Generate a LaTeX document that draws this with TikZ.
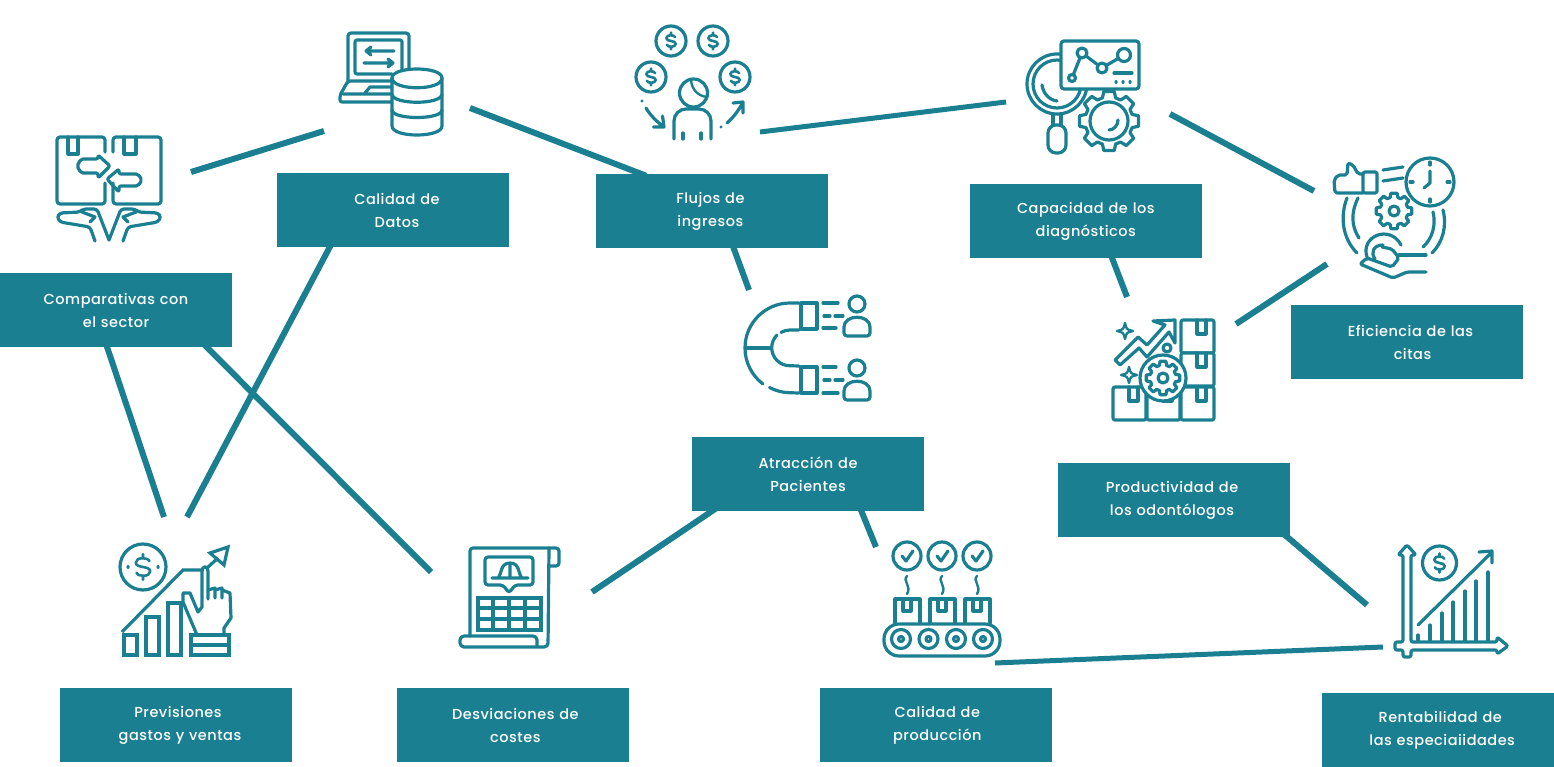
\documentclass[tikz,border=0pt]{standalone}
\usepackage{fontspec}
\usetikzlibrary{positioning,backgrounds}
\newfontfamily\boxfont[LetterSpace=3.5]{Poppins Medium}
\definecolor{tealbar}{HTML}{1A7F91}
\tikzset{
x=1pt,y=-1pt,
node distance=100pt,
infobox/.style={fill=tealbar, text=white, inner sep=0pt, minimum width=232pt, minimum height=74pt, text width=232pt, align=center, font=\boxfont\fontsize{14.5}{23}\selectfont}, % the teal label boxes
link/.style={draw=tealbar, line width=6pt}, % the connectors
iconline/.style={draw=tealbar, line width=3.2pt, line join=round, line cap=round},
pics/coin/.style={code={
  \draw[iconline, fill=white] (0,0) circle (#1);
  \draw[iconline, line width=2.6pt, scale=#1/16] (4.5,-4) .. controls (3.5,-7) and (-5,-7) .. (-5,-3) .. controls (-5,1) and (5,-1) .. (5,3) .. controls (5,7) and (-3.5,7) .. (-4.5,4) (0,-9)--(0,-7) (0,7)--(0,9);
}},
pics/gear/.style n args={4}{code={
  \draw[iconline, fill=white] (-16:#2) \foreach \k in {0,...,#3} {
    -- ({\k*360/(#3+1)-16*8/(#3+1)}:#2) -- ({\k*360/(#3+1)-10*8/(#3+1)}:#1) -- ({\k*360/(#3+1)+10*8/(#3+1)}:#1) -- ({\k*360/(#3+1)+16*8/(#3+1)}:#2)
  } -- cycle;
  \draw[iconline] (0,0) circle (#4);
}},
pics/parcel/.style={code={
  \draw[iconline, fill=white, rounded corners=2pt] (0,0) rectangle (33,33);
  \draw[iconline] (16,0) -- (16,14) -- (25,14) -- (25,0);
}},
pics/sparkle/.style={code={
  \draw[iconline, line width=2.4pt] (0,-8) .. controls (1.5,-1.5) .. (8,0) .. controls (1.5,1.5) .. (0,8) .. controls (-1.5,1.5) .. (-8,0) .. controls (-1.5,-1.5) .. cycle;
}},
}

\begin{document}
\begin{tikzpicture}
  \useasboundingbox (0,0) rectangle (1554,767);

  % boxes
  \node[infobox] (compara) at (116,310) {Comparativas con\\el sector};
  \node[infobox] (datos) at (393,210) {\hspace*{8pt}Calidad de\\\hspace*{8pt}Datos};
  \node[infobox, right=87pt of datos, yshift=-1pt] (flujos) {\hspace*{-4pt}Flujos de\\\hspace*{-4pt}ingresos};
  \node[infobox, right=141pt of flujos, yshift=-10pt] (capacidad) {Capacidad de los\\diagnósticos};
  \node[infobox] (eficiencia) at (1406.5,342) {\hspace*{8pt}Eficiencia de las\\\hspace*{12pt}citas};
  \node[infobox] (productiv) at (1174,500) {\hspace*{-4pt}Productividad de\\\hspace*{-4pt}los odontólogos};
  \node[infobox] (atraccion) at (808,474) {Atracción de\\Pacientes};
  \node[infobox] (previsiones) at (176,725) {\hspace*{4pt}Previsiones\\\hspace*{8pt}gastos y ventas};
  \node[infobox, right=105pt of previsiones] (desviaciones) {\hspace*{4pt}Desviaciones de\\\hspace*{4pt}costes};
  \node[infobox, right=190pt of desviaciones] (produccion) {\hspace*{3pt}Calidad de\\\hspace*{3pt}producción};
  \node[infobox, right=270pt of produccion, yshift=-5pt] (rentabil) {\hspace*{4pt}Rentabilidad de\\\hspace*{8pt}las especiaiidades};

  % free ends of the connectors
  \coordinate (exchangeE) at (191,172);
  \coordinate (dataW) at (324,131);
  \coordinate (dataE) at (470,108);
  \coordinate (coinsE) at (760,132);
  \coordinate (diagW) at (1006,102);
  \coordinate (diagE) at (1170,114);
  \coordinate (citasW) at (1314,191);
  \coordinate (citasS) at (1327,264);
  \coordinate (prodE) at (1236,324);
  \coordinate (prodN) at (1127,297);
  \coordinate (magnetN) at (749,290);
  \coordinate (forecastNa) at (164,517);
  \coordinate (forecastNb) at (187,517);
  \coordinate (sheetW) at (431,572);
  \coordinate (sheetE) at (592,592);
  \coordinate (beltN) at (876,547);
  \coordinate (beltE) at (995,663);
  \coordinate (graphW) at (1383,647);
  \coordinate (graphN) at (1367,605);

  \begin{scope}[on background layer]
    \draw[link] (exchangeE) -- (dataW);
    \draw[link] (dataE) -- ([xshift=50pt,yshift=-2pt]flujos.north west);
    \draw[link, line width=5pt] (coinsE) -- (diagW);
    \draw[link] (diagE) -- (citasW);
    \draw[link] (citasS) -- (prodE);
    \draw[link] ([xshift=141pt,yshift=4pt]capacidad.south west) -- (prodN);
    \draw[link] ([xshift=136pt,yshift=4pt]flujos.south west) -- (magnetN);
    \draw[link] ([xshift=106pt,yshift=4pt]compara.south west) -- (forecastNa);
    \draw[link] ([xshift=203pt,yshift=4pt]compara.south west) -- (sheetW);
    \draw[link] ([xshift=55pt,yshift=4pt]datos.south west) -- (forecastNb);
    \draw[link] ([xshift=26pt,yshift=4pt]atraccion.south west) -- (sheetE);
    \draw[link] ([xshift=168pt,yshift=4pt]atraccion.south west) -- (beltN);
    \draw[link] ([xshift=225pt,yshift=4pt]productiv.south west) -- (graphN);
    \draw[link, line width=5pt] (beltE) -- (graphW);
  \end{scope}

  % exchange of parcels
  \draw[iconline, rounded corners=3pt] (105,152) -- (105,137) -- (57,137) -- (57,204) -- (105,204) -- (105,183);
  \draw[iconline, rounded corners=3pt] (113,152) -- (113,137) -- (161,137) -- (161,204) -- (113,204) -- (113,183);
  \draw[iconline] (68,137) -- (68,154) -- (78,154) -- (78,137) (124,137) -- (124,154) -- (136,154) -- (136,137);
  \draw[iconline, rounded corners=2pt] (98,159) -- (81,159) -- (77,166) -- (81,173) -- (98,173) -- (98,178) -- (110,166) -- (98,155) -- cycle;
  \draw[iconline, rounded corners=2pt] (119,174) -- (138,174) -- (142,180) -- (138,186) -- (119,186) -- (119,192) -- (107,179) -- (119,169) -- cycle;
  \foreach \flip in {1,-1} {
    \begin{scope}[xshift=109pt, xscale=\flip]
      \draw[iconline, rounded corners=3pt] (-14,241) -- (-19,227) -- (-49,222) -- (-52,217) -- (-49,213) -- (-29,212) -- (-26,209) -- (-12,209) -- (0,240);
      \draw[iconline] (-27,212) -- (-14,217) -- (-19,222);
    \end{scope}
  }

  % laptop and database
  \draw[iconline, rounded corners=3pt] (348,81) -- (348,33) -- (409,33) -- (409,70);
  \draw[iconline, rounded corners=2pt] (392,74) -- (355,74) -- (355,40) -- (402,40) -- (402,70);
  \draw[iconline] (366,51) -- (394,51) (371,47) -- (366,51) -- (371,55) (364,63) -- (393,63) (388,59) -- (393,63) -- (388,67);
  \draw[iconline, rounded corners=2pt] (392,81) -- (348,81) -- (340,95) -- (340,102) -- (392,102);
  \draw[iconline] (343,94) -- (392,94) (365,93) -- (370,87) -- (392,87);
  \draw[iconline, fill=white] (392,78) -- (392,126) .. controls (392,138) and (442,138) .. (442,126) -- (442,78) .. controls (442,66) and (392,66) .. (392,78);
  \draw[iconline] (392,78) .. controls (392,91) and (442,91) .. (442,78);
  \draw[iconline] (392,94) .. controls (392,105) and (442,105) .. (442,94);
  \draw[iconline] (392,110) .. controls (392,120) and (442,120) .. (442,110);

  % coins round a person
  \foreach \cx/\cy in {671/41,713/41,651/77,735/77}
    \pic at (\cx,\cy) {coin=15};
  \draw[iconline] (693.5,93) circle (14);
  \draw[iconline, line width=2.4pt] (691,80) .. controls (692,90) and (698,96) .. (707,97);
  \draw[iconline, rounded corners=12pt] (674,139) -- (674,109) -- (711,109) -- (711,139);
  \draw[iconline] (683,133) -- (683,139) (701,133) -- (701,139);
  \draw[iconline] (642,101) -- (642,101.1) (646,108) .. controls (650,115) and (657,122) .. (664,127) (653.5,127) -- (664,127) -- (662.5,116);
  \draw[iconline] (721,127) -- (721,127.1) (727,123) .. controls (733,118) and (739,110) .. (743,102) (733,103) -- (743,102) -- (743,113);

  % magnifier, gear and chart
  \pic at (1109,121) {gear={30}{24}{7}{19}};
  \draw[iconline] (1118,120) .. controls (1118,125) and (1114,130) .. (1109,130);
  \draw[iconline, fill=white, rounded corners=8pt] (1048,125) rectangle (1066,153);
  \draw[iconline, fill=white] (1053,112) -- (1053,125) (1061,112) -- (1061,125);
  \draw[iconline, fill=white] (1057,84) circle (30);
  \draw[iconline] (1057,84) circle (24);
  \draw[iconline] (1042,85) .. controls (1043,93) and (1049,100) .. (1057,101);
  \draw[iconline, fill=white, rounded corners=3pt] (1061,41) rectangle (1139,89);
  \draw[iconline] (1072,78) -- (1082,53) -- (1102,68) -- (1124,55);
  \draw[iconline, fill=white] (1072,78) circle (3.5) (1082,53) circle (5) (1102,68) circle (5) (1124,55) circle (6.5);
  \draw[iconline] (1114,73) -- (1132,73) (1116,82) -- (1116.1,82) (1123,82) -- (1123.1,82) (1130,82) -- (1130.1,82);

  % clock, thumb and hand
  \draw[iconline] (1430,182) circle (24);
  \draw[iconline] (1430,162) -- (1430,165) (1430,199) -- (1430,202) (1410,182) -- (1413,182) (1447,182) -- (1450,182);
  \draw[iconline] (1430,171) -- (1430,183) -- (1424,188);
  \draw[iconline, rounded corners=2pt] (1363,172) rectangle (1377,193);
  \draw[iconline, rounded corners=2pt] (1363,174) -- (1358,174) -- (1353,165) -- (1348,163) -- (1347,175) -- (1338,175) -- (1334,180) -- (1335,193) -- (1363,193);
  \draw[iconline] (1383,170) -- (1403,167) (1383,181) -- (1403,178);
  \pic at (1394,211) {gear={18}{14}{7}{5}};
  \draw[iconline] (1347,198) .. controls (1340,216) and (1342,238) .. (1357,253);
  \draw[iconline] (1358,198) .. controls (1351,212) and (1351,226) .. (1359,238);
  \draw[iconline] (1443,210) .. controls (1447,226) and (1443,242) .. (1432,253);
  \draw[iconline] (1433,212) .. controls (1436,224) and (1433,238) .. (1423,247);
  \draw[iconline] (1367,257) .. controls (1360,236) and (1390,224) .. (1401,245);
  \draw[iconline] (1383,245) .. controls (1374,245) and (1370,252) .. (1375,259);
  \draw[iconline, rounded corners=2pt] (1426,272) -- (1407,272) -- (1393,278) -- (1360,264) -- (1367,258) -- (1392,267) -- (1399,258) -- (1392,249) -- (1382,247);
  \draw[iconline] (1399,255) -- (1405,255) -- (1426,255);

  % parcels, trend and gear
  \foreach \px/\py in {1181/320,1181/353,1181/387,1147/387,1113/387}
    \pic at (\px,\py) {parcel};
  \draw[iconline, fill=white] (1163,378) circle (23);
  \draw[iconline] (1115,360) -- (1138,337) -- (1147,345) -- (1165,325) -- (1153,321) -- (1175,320) -- (1175,343) -- (1169,332) -- (1147,357) -- (1139,348) -- (1120,365) -- cycle;
  \draw[iconline] (1167,348) circle (4);
  \pic at (1125,331) {sparkle};
  \pic at (1129,375) {sparkle};
  \pic at (1163,378) {gear={17}{13}{7}{5}};

  % magnet and two people
  \draw[iconline] (799,303) -- (790,303) arc[start angle=270, end angle=127, radius=45];
  \draw[iconline] (769.5,387.5) arc[start angle=118, end angle=90, radius=45] -- (799,393);
  \draw[iconline] (799,330) -- (790,330) arc[start angle=270, end angle=240, radius=18];
  \draw[iconline] (777,335) arc[start angle=225, end angle=90, radius=18] -- (799,366);
  \draw[iconline] (746,348) -- (771,348);
  \draw[iconline] (801,303) rectangle (817,329) (801,367) rectangle (817,393);
  \draw[iconline] (823,303) -- (838,303) (824,316) -- (830,316) (835,316) -- (843,316) (823,328) -- (836,328);
  \draw[iconline] (823,367) -- (836,367) (824,380) -- (830,380) (835,380) -- (843,380) (823,393) -- (838,393);
  \foreach \py in {304,368} {
    \draw[iconline] (857,\py) circle (8);
    \draw[iconline, rounded corners=3pt] (844,\py+32) -- (870,\py+32) -- (870,\py+26) .. controls (870,\py+10) and (844,\py+10) .. (844,\py+26) -- cycle;
  }

  % forecast chart with hand
  \pic at (143,567) {coin=23};
  \draw[iconline] (128,567) -- (128.1,567) (158,567) -- (158.1,567);
  \draw[iconline, line cap=butt, line join=miter] (122,632) -- (183,570) -- (203,570);
  \draw[iconline, line cap=butt] (207,568) -- (218,558);
  \draw[iconline, line join=miter] (228,547) -- (210,553) -- (224,565) -- cycle;
  \draw[iconline, line join=miter, line cap=butt] (124,635) rectangle (137,655) (146,617) rectangle (159,655) (168,603) rectangle (181,655);
  \draw[iconline, line join=miter, line cap=butt] (191,635) rectangle (229,655) (191,645) -- (229,645);
  \draw[iconline] (197,635) -- (183,602) -- (183,593) -- (190,593) -- (198,612) -- (202,607) -- (202,572) .. controls (202,565) and (208,565) .. (208,572) -- (208,599);
  \draw[iconline] (208,590) -- (215,588) -- (215,598) (215,590) -- (222,588) -- (222,598) (222,590) -- (230,593) -- (231,618) -- (224,628) -- (224,635);

  % budget sheet
  \draw[iconline, rounded corners=3pt] (470,636) -- (470,548) -- (559,548) -- (559,566) -- (549,566);
  \draw[iconline, rounded corners=4pt] (549,548) -- (548,647) -- (460,647) -- (460,636) -- (537,636) -- (537,647);
  \draw[iconline, rounded corners=3pt] (503,585) -- (485,585) -- (485,557) -- (533,557) -- (533,585) -- (515,585) -- (509,593) -- cycle;
  \draw[iconline] (492,578) -- (528,578) (498,578) .. controls (502,574) and (500,563) .. (510,563) .. controls (520,563) and (518,574) .. (522,578) (510,565) -- (510,578);
  \draw[iconline, line join=miter, line cap=butt] (478,598) rectangle (541,630) (478,608) -- (541,608) (478,619) -- (541,619) (493,598) -- (493,630) (509,598) -- (509,630) (525,598) -- (525,630);

  % conveyor
  \foreach \bx in {907,942,977} {
    \draw[iconline] (\bx,556) circle (14);
    \draw[iconline] (\bx-5,556) -- (\bx-1,561) -- (\bx+6,551);
    \draw[iconline, line width=2.4pt] (\bx,576) .. controls (\bx-5,581) and (\bx+5,586) .. (\bx,594);
    \draw[iconline] (\bx-12,623) -- (\bx-12,599) -- (\bx+13,599) -- (\bx+13,623);
    \draw[iconline] (\bx-4,600) -- (\bx-4,611) -- (\bx+4,611) -- (\bx+4,600);
  }
  \draw[iconline, rounded corners=15pt] (884,624) rectangle (1000,656);
  \foreach \rx in {901,928.5,956,983} {
    \draw[iconline] (\rx,639) circle (9.5);
    \draw[iconline] (\rx,639) circle (2.5);
  }

  % profit graph
  \draw[iconline, rounded corners=2pt] (1403,642) -- (1403,555) -- (1398,555) -- (1407,545) -- (1416,555) -- (1411,555) -- (1411,642) -- (1497,642) -- (1497,637) -- (1508,646) -- (1497,654) -- (1497,650) -- (1411,650) -- (1411,657) -- (1403,657) -- (1403,650) -- (1395,650) -- (1395,642) -- cycle;
  \pic at (1439.5,563) {coin=17};
  \draw[iconline] (1418,625) -- (1491,553) (1479,552) -- (1492,551) -- (1492,563);
  \foreach \gx/\gy in {1418/635,1430/625,1442/613,1453/602,1465/591,1476/581,1488/572}
    \draw[iconline] (\gx,\gy) -- (\gx,641);
\end{tikzpicture}
\end{document}
